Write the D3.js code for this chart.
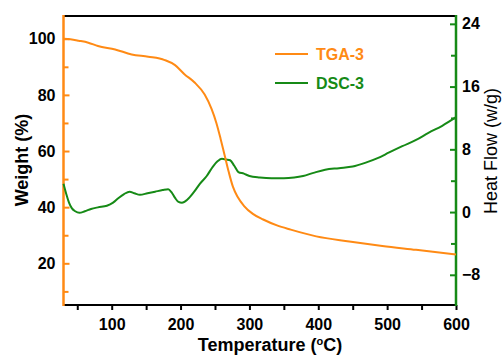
<!DOCTYPE html>
<html>
<head>
<meta charset="utf-8">
<script src="https://cdn.jsdelivr.net/npm/d3@7/dist/d3.min.js"></script>
<style>
body { margin: 0; background: #fff; }
svg text { font-family: "Liberation Sans", Arial, sans-serif; }
</style>
</head>
<body>
<div id="container"></div>
<script>
var WIDTH = 503,
	HEIGHT = 358,
	LEFT = 63.5,
	RIGHT = 456,
	TOP = 16,
	BOTTOM = 305;

var ORANGE = '#ff8a14',
	GREEN = '#168a16';

// TGA-3: temperature (°C) / weight (%)
var tgaTemp = [30, 40, 52, 66, 80, 105, 129, 153, 177, 192, 206, 220, 235, 245, 252, 258, 264, 270, 276, 283, 292, 305, 320, 340, 360, 397, 445, 493, 542, 600];
var tgaWeight = [100, 99.8, 99.3, 98.6, 97.4, 96.2, 94.4, 93.6, 92.4, 90.6, 87.3, 84.5, 80.1, 75, 70, 64.5, 58.5, 52.5, 47.3, 43.6, 40.5, 37.6, 35.6, 33.5, 32, 29.6, 27.8, 26.2, 24.8, 23.1];

// DSC-3: temperature (°C) / heat flow (w/g)
var dscTemp = [30, 34, 38, 42, 47, 53, 61, 70, 80, 93, 102, 110, 118, 126, 133, 141, 152, 163, 174, 182, 187, 192, 197, 202, 210, 219, 228, 238, 247, 254, 260, 266, 272, 278, 284, 292, 300, 315, 332, 350, 365, 378, 393, 410, 430, 450, 469, 487, 503, 522, 542, 560, 580, 600];
var dscHeat = [3.6, 2.3, 1.2, 0.5, 0.1, -0.1, 0.1, 0.4, 0.6, 0.8, 1.2, 1.8, 2.3, 2.6, 2.4, 2.2, 2.4, 2.6, 2.8, 2.9, 2.5, 1.8, 1.3, 1.2, 1.6, 2.5, 3.6, 4.6, 5.8, 6.5, 6.8, 6.7, 6.6, 5.9, 5.1, 4.9, 4.6, 4.4, 4.3, 4.3, 4.4, 4.6, 5.0, 5.4, 5.6, 5.8, 6.3, 6.9, 7.6, 8.4, 9.2, 10.1, 11.0, 12.1];

var xTicks = [100, 200, 300, 400, 500, 600];
var xMinor = [50, 150, 250, 350, 450, 550];
var leftTicks = [20, 40, 60, 80, 100];
var leftMinor = [10, 30, 50, 70, 90];
var rightTicks = [-8, 0, 8, 16, 24];
var rightMinor = [-4, 4, 12, 20];

var xScale = d3.scaleLinear().domain([30, 600]).range([LEFT, RIGHT]);
var yLeft = d3.scaleLinear().domain([5.15, 108.1]).range([BOTTOM, TOP]);
var yRight = d3.scaleLinear().domain([-11.85, 25]).range([BOTTOM, TOP]);

var translate = function (x, y) {
	return "translate(" + x + "," + y + ")";
};

var svg = d3.select('#container')
	.append('svg')
	.attr('width', WIDTH)
	.attr('height', HEIGHT);

function styleAxis(g, color, size) {
	g.select('.domain').remove();
	g.selectAll('line').attr('stroke', color).attr('stroke-width', 2);
	g.selectAll('text')
		.attr('fill', '#000')
		.style('font-size', size)
		.style('font-weight', 'bold');
}

function drawAxes() {
	// bottom
	var gx = svg.append('g').attr('transform', translate(0, BOTTOM))
		.call(d3.axisBottom(xScale).tickValues(xTicks).tickSize(5).tickPadding(9));
	styleAxis(gx, '#000', '16px');
	var gxm = svg.append('g').attr('transform', translate(0, BOTTOM))
		.call(d3.axisBottom(xScale).tickValues(xMinor).tickSize(5).tickFormat(''));
	styleAxis(gxm, '#000', '16px');

	// left (ticks inside)
	var gl = svg.append('g').attr('transform', translate(LEFT, 0))
		.call(d3.axisLeft(yLeft).tickValues(leftTicks).tickSize(-6).tickPadding(8));
	styleAxis(gl, ORANGE, '16px');
	var glm = svg.append('g').attr('transform', translate(LEFT, 0))
		.call(d3.axisLeft(yLeft).tickValues(leftMinor).tickSize(-5).tickFormat(''));
	styleAxis(glm, ORANGE, '16px');

	// right (ticks inside)
	var gr = svg.append('g').attr('transform', translate(RIGHT, 0))
		.call(d3.axisRight(yRight).tickValues(rightTicks).tickSize(-6).tickPadding(6));
	styleAxis(gr, GREEN, '16px');
	var grm = svg.append('g').attr('transform', translate(RIGHT, 0))
		.call(d3.axisRight(yRight).tickValues(rightMinor).tickSize(-5).tickFormat(''));
	styleAxis(grm, GREEN, '16px');

	// frame
	svg.append('line').attr('x1', LEFT).attr('x2', RIGHT).attr('y1', TOP).attr('y2', TOP)
		.attr('stroke', '#000').attr('stroke-width', 2);
	svg.append('line').attr('x1', LEFT).attr('x2', RIGHT).attr('y1', BOTTOM).attr('y2', BOTTOM)
		.attr('stroke', '#000').attr('stroke-width', 2);
	svg.append('line').attr('x1', LEFT).attr('x2', LEFT).attr('y1', TOP - 1).attr('y2', BOTTOM + 1)
		.attr('stroke', ORANGE).attr('stroke-width', 2.5);
	svg.append('line').attr('x1', RIGHT).attr('x2', RIGHT).attr('y1', TOP - 1).attr('y2', BOTTOM + 1)
		.attr('stroke', GREEN).attr('stroke-width', 2.5);

	// titles
	svg.append('text')
		.attr('transform', translate(28, 160) + ' rotate(-90)')
		.attr('text-anchor', 'middle')
		.style('font-size', '18px').style('font-weight', 'bold')
		.text('Weight (%)');
	svg.append('text')
		.attr('transform', translate(497, 151) + ' rotate(-90)')
		.attr('text-anchor', 'middle')
		.style('font-size', '18px')
		.text('Heat Flow (w/g)');
	var xt = svg.append('text')
		.attr('x', 270).attr('y', 351)
		.attr('text-anchor', 'middle')
		.style('font-size', '18px').style('font-weight', 'bold');
	xt.append('tspan').text('Temperature (');
	xt.append('tspan').attr('dy', -6).style('font-size', '11px').text('o');
	xt.append('tspan').attr('dy', 6).text('C)');
}

function drawLines() {
	var tga = tgaTemp.map(function (t, i) { return { x: t, y: tgaWeight[i] }; });
	var dsc = dscTemp.map(function (t, i) { return { x: t, y: dscHeat[i] }; });

	var tgaLine = d3.line()
		.x(function (d) { return xScale(d.x); })
		.y(function (d) { return yLeft(d.y); })
		.curve(d3.curveMonotoneX);
	var dscLine = d3.line()
		.x(function (d) { return xScale(d.x); })
		.y(function (d) { return yRight(d.y); })
		.curve(d3.curveMonotoneX);

	svg.append('path').attr('d', dscLine(dsc))
		.attr('fill', 'none').attr('stroke', GREEN).attr('stroke-width', 2);
	svg.append('path').attr('d', tgaLine(tga))
		.attr('fill', 'none').attr('stroke', ORANGE).attr('stroke-width', 2);
}

function drawLegend() {
	var items = [
		{ name: 'TGA-3', color: ORANGE, y: 54 },
		{ name: 'DSC-3', color: GREEN, y: 83 }
	];
	items.forEach(function (it) {
		svg.append('line')
			.attr('x1', 275).attr('x2', 308).attr('y1', it.y).attr('y2', it.y)
			.attr('stroke', it.color).attr('stroke-width', 2);
		svg.append('text')
			.attr('x', 316).attr('y', it.y + 6)
			.attr('fill', it.color)
			.style('font-size', '16px').style('font-weight', 'bold')
			.text(it.name);
	});
}

drawAxes();
drawLines();
drawLegend();
</script>
</body>
</html>
